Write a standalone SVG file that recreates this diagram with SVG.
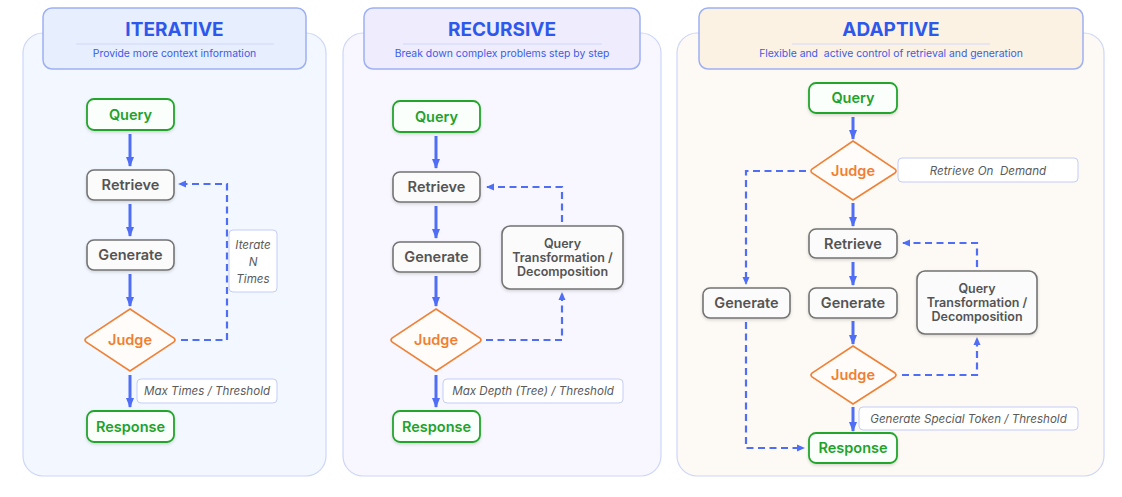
<svg xmlns="http://www.w3.org/2000/svg" width="1122" height="497" viewBox="0 0 1122 497">
<style>
text{font-family:Inter,"Noto Sans","Liberation Sans",sans-serif}
.title{font-size:19px;font-weight:700;fill:#2e58ec;text-anchor:middle}
.sub{font-size:10.4px;fill:#3a5ce6;text-anchor:middle}
.hdr{stroke:#9db0f4;stroke-width:1.5}
.panel{stroke:#cdd6fa;stroke-width:1.2}
.div{stroke:#cfd8fb;stroke-width:1}
.gbox{fill:#fbfbfb;stroke:#737373;stroke-width:1.6}
.grn{fill:#fbfffb;stroke:#22a52c;stroke-width:1.8}
.dia{fill:#fffcf9;stroke:#ef8237;stroke-width:1.6}
.nt{font-size:14.5px;font-weight:600;fill:#545454;text-anchor:middle}
.ntg{font-size:14.5px;font-weight:600;fill:#22a22c;text-anchor:middle}
.nto{font-size:14.5px;font-weight:600;fill:#ef7f33;text-anchor:middle}
.nts{font-size:12.5px;font-weight:600;fill:#545454;text-anchor:middle}
.lbl{fill:#ffffff;stroke:#c3cdf8;stroke-width:1}
.lt{font-size:11.6px;font-style:italic;fill:#5a5a5a;text-anchor:middle}
.sol{stroke:#4f6ef5;stroke-width:3;fill:none}
.dsh{stroke:#4f6ef5;stroke-width:2.2;fill:none;stroke-dasharray:7 4.5}
</style>
<defs>
<filter id="sh" x="-20%" y="-20%" width="140%" height="150%">
<feDropShadow dx="0" dy="1.5" stdDeviation="1.5" flood-color="#000" flood-opacity="0.15"/>
</filter>
<marker id="ah" markerUnits="userSpaceOnUse" markerWidth="10" markerHeight="10" viewBox="0 0 10 10" refX="9" refY="5" orient="auto">
<path d="M0,1 L10,5 L0,9 Z" fill="#4f6ef5"/>
</marker>
<marker id="ad" markerUnits="userSpaceOnUse" markerWidth="8" markerHeight="8" viewBox="0 0 8 8" refX="7" refY="4" orient="auto">
<path d="M0,0.5 L8,4 L0,7.5 Z" fill="#4f6ef5"/>
</marker>
</defs>
<rect width="1122" height="497" fill="#ffffff"/>

<!-- Panels -->
<g id="panel-iterative">
<rect class="panel" x="23" y="33" width="303" height="443" rx="20" fill="#f3f7ff"/>
<rect class="hdr" x="43" y="8" width="263" height="61" rx="9" fill="#e7eefe"/>
<line class="div" x1="76" y1="44" x2="274" y2="44"/>
<text class="title" x="174.5" y="36">ITERATIVE</text>
<text class="sub" x="174.5" y="57">Provide more context information</text>
</g>
<g id="panel-recursive">
<rect class="panel" x="343" y="33" width="318" height="443" rx="20" fill="#f8f7ff"/>
<rect class="hdr" x="364" y="8" width="276" height="61" rx="9" fill="#efecfd"/>
<line class="div" x1="403" y1="44" x2="602" y2="44"/>
<text class="title" x="502" y="36">RECURSIVE</text>
<text class="sub" x="502" y="57">Break down complex problems step by step</text>
</g>
<g id="panel-adaptive">
<rect class="panel" x="677" y="33" width="427" height="443" rx="20" fill="#fdf9f4"/>
<rect class="hdr" x="699" y="8" width="384" height="61" rx="9" fill="#fcf2e4"/>
<line class="div" x1="792" y1="44" x2="990" y2="44"/>
<text class="title" x="891" y="36">ADAPTIVE</text>
<text class="sub" x="891" y="57">Flexible and &#160;active control of retrieval and generation</text>
</g>

<!-- Connectors -->
<g id="connectors">
<!-- iterative -->
<line class="sol" x1="130" y1="134" x2="130" y2="166" marker-end="url(#ah)"/>
<line class="sol" x1="130" y1="204" x2="130" y2="236" marker-end="url(#ah)"/>
<line class="sol" x1="130" y1="274" x2="130" y2="306" marker-end="url(#ah)"/>
<line class="sol" x1="130" y1="375" x2="130" y2="407" marker-end="url(#ah)"/>
<path class="dsh" d="M181,340 H227 V184 H179" marker-end="url(#ad)"/>
<!-- recursive -->
<line class="sol" x1="436" y1="136" x2="436" y2="168" marker-end="url(#ah)"/>
<line class="sol" x1="436" y1="206" x2="436" y2="238" marker-end="url(#ah)"/>
<line class="sol" x1="436" y1="276" x2="436" y2="306" marker-end="url(#ah)"/>
<line class="sol" x1="436" y1="375" x2="436" y2="407" marker-end="url(#ah)"/>
<path class="dsh" d="M486,340 H562 V293" marker-end="url(#ad)"/>
<path class="dsh" d="M562,222 V187 H487" marker-end="url(#ad)"/>
<!-- adaptive -->
<line class="sol" x1="853" y1="117" x2="853" y2="139" marker-end="url(#ah)"/>
<line class="sol" x1="853" y1="203" x2="853" y2="226" marker-end="url(#ah)"/>
<line class="sol" x1="853" y1="262" x2="853" y2="285" marker-end="url(#ah)"/>
<line class="sol" x1="853" y1="321" x2="853" y2="344" marker-end="url(#ah)"/>
<line class="sol" x1="853" y1="407" x2="853" y2="431" marker-end="url(#ah)"/>
<path class="dsh" d="M806,171 H746 V284" marker-end="url(#ad)"/>
<path class="dsh" d="M746,322 V448 H804" marker-end="url(#ad)"/>
<path class="dsh" d="M902,375 H977 V338" marker-end="url(#ad)"/>
<path class="dsh" d="M977,267 V243 H903" marker-end="url(#ad)"/>
</g>

<!-- Iterative nodes -->
<g id="it-query"><rect class="grn" x="87" y="99" width="87" height="31" rx="7" filter="url(#sh)"/><text class="ntg" x="130.5" y="120">Query</text></g>
<g id="it-retrieve"><rect class="gbox" x="87" y="170" width="87" height="30" rx="7" filter="url(#sh)"/><text class="nt" x="130.5" y="190">Retrieve</text></g>
<g id="it-generate"><rect class="gbox" x="87" y="240" width="87" height="30" rx="7" filter="url(#sh)"/><text class="nt" x="130.5" y="260">Generate</text></g>
<g id="it-judge"><path class="dia" d="M130,309 L174,338 Q176,340 174,342 L130,371 L86,342 Q84,340 86,338 Z"/><text class="nto" x="130" y="345">Judge</text></g>
<g id="it-response"><rect class="grn" x="87" y="411" width="87" height="31" rx="7" filter="url(#sh)"/><text class="ntg" x="130.5" y="432">Response</text></g>
<g id="it-iterate-label"><rect class="lbl" x="229" y="230" width="48" height="62" rx="4"/><text class="lt" x="253" y="249">Iterate</text><text class="lt" x="253" y="266">N</text><text class="lt" x="253" y="283">Times</text></g>
<g id="it-max-label"><rect class="lbl" x="137" y="379" width="140" height="24" rx="4"/><text class="lt" x="207" y="395">Max Times / Threshold</text></g>

<!-- Recursive nodes -->
<g id="rc-query"><rect class="grn" x="393" y="101" width="87" height="31" rx="7" filter="url(#sh)"/><text class="ntg" x="436.5" y="122">Query</text></g>
<g id="rc-retrieve"><rect class="gbox" x="393" y="172" width="87" height="30" rx="7" filter="url(#sh)"/><text class="nt" x="436.5" y="192">Retrieve</text></g>
<g id="rc-generate"><rect class="gbox" x="393" y="242" width="87" height="30" rx="7" filter="url(#sh)"/><text class="nt" x="436.5" y="262">Generate</text></g>
<g id="rc-judge"><path class="dia" d="M436,309 L480,338 Q482,340 480,342 L436,371 L392,342 Q390,340 392,338 Z"/><text class="nto" x="436" y="345">Judge</text></g>
<g id="rc-response"><rect class="grn" x="393" y="411" width="87" height="31" rx="7" filter="url(#sh)"/><text class="ntg" x="436.5" y="432">Response</text></g>
<g id="rc-qt"><rect class="gbox" x="502" y="226" width="121" height="63" rx="8" filter="url(#sh)"/><text class="nts" x="562.5" y="248">Query</text><text class="nts" x="562.5" y="262">Transformation /</text><text class="nts" x="562.5" y="276">Decomposition</text></g>
<g id="rc-max-label"><rect class="lbl" x="443" y="379" width="180" height="24" rx="4"/><text class="lt" x="533" y="395">Max Depth (Tree) / Threshold</text></g>

<!-- Adaptive nodes -->
<g id="ad-query"><rect class="grn" x="809" y="83" width="88" height="30" rx="7" filter="url(#sh)"/><text class="ntg" x="853" y="103">Query</text></g>
<g id="ad-judge1"><path class="dia" d="M853,141 L895,169 Q897,171 895,173 L853,200 L812,173 Q810,171 812,169 Z"/><text class="nto" x="853" y="176">Judge</text></g>
<g id="ad-rod-label"><rect class="lbl" x="898" y="158" width="180" height="24" rx="4"/><text class="lt" x="988" y="175">Retrieve On &#160;Demand</text></g>
<g id="ad-retrieve"><rect class="gbox" x="809" y="229" width="88" height="29" rx="7" filter="url(#sh)"/><text class="nt" x="853" y="248.5">Retrieve</text></g>
<g id="ad-generate"><rect class="gbox" x="809" y="288" width="88" height="30" rx="7" filter="url(#sh)"/><text class="nt" x="853" y="308">Generate</text></g>
<g id="ad-generate-left"><rect class="gbox" x="703" y="288" width="87" height="30" rx="7" filter="url(#sh)"/><text class="nt" x="746.5" y="308">Generate</text></g>
<g id="ad-qt"><rect class="gbox" x="917" y="271" width="120" height="63" rx="8" filter="url(#sh)"/><text class="nts" x="977" y="293">Query</text><text class="nts" x="977" y="307">Transformation /</text><text class="nts" x="977" y="321">Decomposition</text></g>
<g id="ad-judge2"><path class="dia" d="M853,346 L895,373 Q897,375 895,377 L853,404 L812,377 Q810,375 812,373 Z"/><text class="nto" x="853" y="380">Judge</text></g>
<g id="ad-gst-label"><rect class="lbl" x="859" y="407" width="219" height="23" rx="4"/><text class="lt" x="968.5" y="423">Generate Special Token / Threshold</text></g>
<g id="ad-response"><rect class="grn" x="809" y="433" width="88" height="30" rx="7" filter="url(#sh)"/><text class="ntg" x="853" y="453">Response</text></g>
</svg>
